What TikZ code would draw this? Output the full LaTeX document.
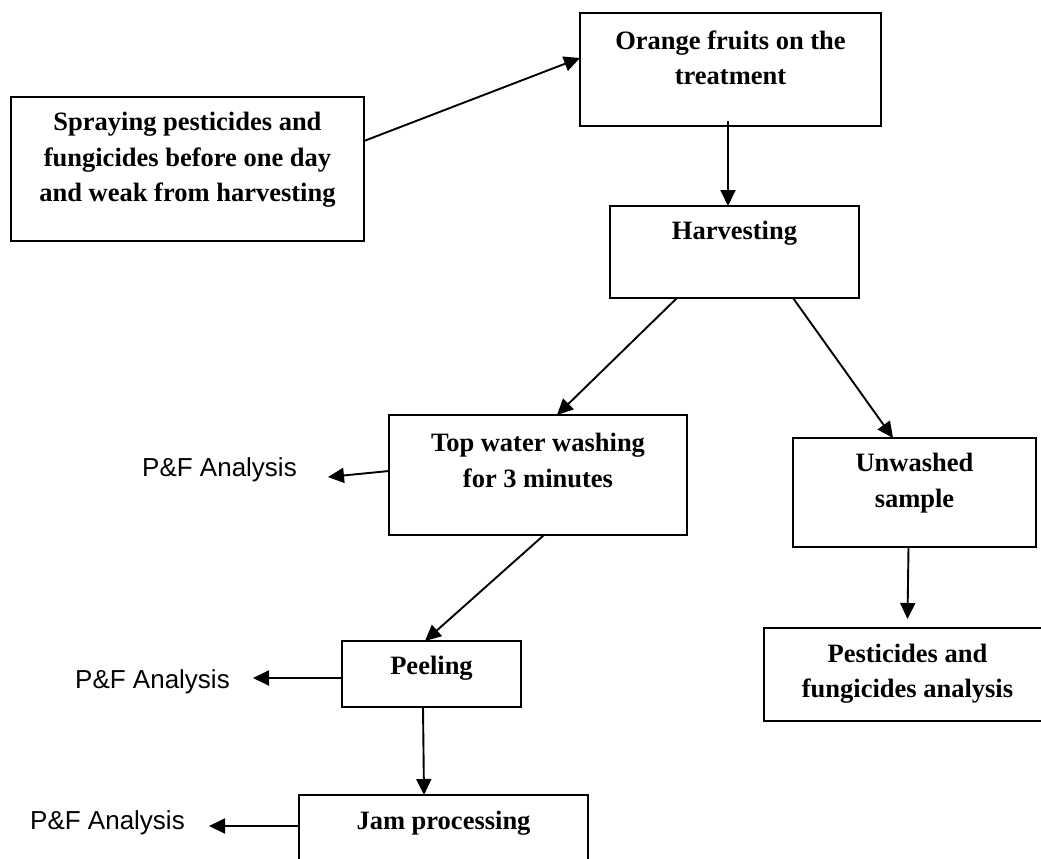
\documentclass[tikz,border=0pt]{standalone}
\usepackage{fontspec}
\setmainfont{Liberation Serif}
\newfontfamily\pfsans{Liberation Sans}
\usetikzlibrary{arrows.meta}
\tikzset{
  box/.style={draw=black, line width=1.5pt, inner sep=0pt, outer sep=0pt, anchor=north west, fill=white},
  txt/.style={inner sep=0pt, align=center, font=\fontsize{26.5}{35.5}\selectfont\bfseries},
  pf/.style={inner sep=0pt, font=\pfsans\fontsize{26}{30}\selectfont},
  arr/.style={line width=1.9pt, -{Triangle[length=16pt,width=15pt]}}
}
\begin{document}
\begin{tikzpicture}[x=1pt,y=-1pt]
\useasboundingbox (0,0) rectangle (1041,859);
\clip (0,0) rectangle (1041,859);
\fill[white] (0,0) rectangle (1041,859);
% boxes
\node[box, minimum width=353pt, minimum height=144pt] (spray) at (11,97) {};
\node[box, minimum width=301pt, minimum height=113pt] (orange) at (580,13) {};
\node[box, minimum width=249pt, minimum height=92pt] (harv) at (610,206) {};
\node[box, minimum width=298pt, minimum height=120pt] (top) at (389,415) {};
\node[box, minimum width=243pt, minimum height=109pt] (unw) at (793,438) {};
\node[box, minimum width=287pt, minimum height=93pt] (pest) at (764,628) {};
\node[box, minimum width=179pt, minimum height=66pt] (peel) at (342,641) {};
\node[box, minimum width=289pt, minimum height=100pt] (jam) at (299,795) {};
% box texts
\node[txt] (sprayT) at ([yshift=-63pt]spray.north) {Spraying pesticides and\\fungicides before one day\\and weak from harvesting};
\node[txt] (orangeT) at ([yshift=-45pt]orange.north) {Orange fruits on the\\treatment};
\node[txt] (harvT) at ([yshift=-27.5pt]harv.north) {Harvesting};
\node[txt] (topT) at ([yshift=-45.5pt]top.north) {Top water washing\\for 3 minutes};
\node[txt] (unwT) at ([yshift=-45pt]unw.north) {Unwashed\\sample};
\node[txt] (pestT) at ([yshift=-45.5pt]pest.north) {Pesticides and\\fungicides analysis};
\node[txt] (peelT) at ([yshift=-27pt]peel.north) {Peeling};
\node[txt] (jamT) at ([yshift=-28pt]jam.north) {Jam processing};
% side labels
\node[pf, anchor=east] (pf1) at (297,470) {P\&F Analysis};
\node[pf, anchor=east] (pf2) at (230,682) {P\&F Analysis};
\node[pf, anchor=east] (pf3) at (185,823) {P\&F Analysis};
% connectors
\draw[arr] ([yshift=28pt]spray.east) -- ([yshift=11.5pt]orange.west);
\draw[arr] ([xshift=-2.5pt,yshift=5pt]orange.south) -- ([xshift=-6.5pt]harv.north);
\draw[arr] ([xshift=-57.5pt]harv.south) -- ([xshift=19pt]top.north);
\draw[arr] ([xshift=58.5pt]harv.south) -- ([xshift=-21.5pt]unw.north);
\draw[arr] ([yshift=4pt]top.west) -- ([xshift=31pt,yshift=-7pt]pf1.east);
\draw[arr] ([xshift=6pt]top.south) -- ([xshift=-6.5pt]peel.north);
\draw[arr] ([yshift=-4pt]peel.west) -- ([xshift=23pt,yshift=4pt]pf2.east);
\draw[arr] ([xshift=-8.5pt]peel.south) -- ([xshift=-19.5pt]jam.north);
\draw[arr] ([yshift=-31pt]jam.north west) -- ([xshift=24pt,yshift=-3pt]pf3.east);
\draw[arr] ([xshift=-6pt]unw.south) -- ([yshift=9pt]pest.north);
\end{tikzpicture}
\end{document}
